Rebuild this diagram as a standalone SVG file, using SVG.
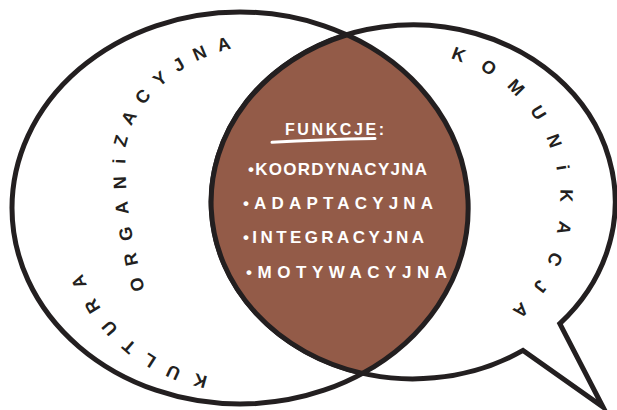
<svg xmlns="http://www.w3.org/2000/svg" width="617" height="410" viewBox="0 0 617 410">
  <style>
    .outline { fill: #ffffff; stroke: #231f20; stroke-width: 5; stroke-linejoin: miter; stroke-miterlimit: 12; }
    .lens { fill: #935b48; stroke: #231f20; stroke-width: 5; stroke-linejoin: round; }
    .arc-label { font-family: "Liberation Sans", Arial, sans-serif; font-size: 18px; font-weight: bold; fill: #231f20; dominant-baseline: central; }
    .inner { font-family: "Liberation Sans", Arial, sans-serif; font-weight: bold; fill: #ffffff; }
    .guide { fill: none; stroke: none; }
  </style>
  <defs>
    <path id="p-kultura" class="guide" d="M212.3,382.8 A177,177 0 0 1 69,253.8"/>
    <path id="p-organizacyjna" class="guide" d="M139,291 C128,252 117,195 120,150 C123,105 170,55 240,40"/>
    <path id="p-komunikacja" class="guide" d="M447.4,51.9 A153,153 0 0 1 507.2,321.6"/>
  </defs>

  <g id="kultura-organizacyjna">
    <ellipse class="outline" cx="240" cy="208" rx="228" ry="196"/>
  </g>

  <g id="komunikacja">
    <path class="outline" d="M559.8,323.6 A202,177 0 1 0 523,350.4 L603,407 Z"/>
  </g>

  <g id="funkcje">
    <path class="lens" d="M347,34.8 A228,196 0 0 1 362.4,373.4 A202,177 0 0 1 347,34.8 Z"/>
  </g>

  <g id="labels">
    <text class="arc-label" letter-spacing="14.8"><textPath href="#p-kultura" startOffset="6">KULTURA</textPath></text>
    <text class="arc-label" letter-spacing="12.4"><textPath href="#p-organizacyjna" startOffset="0">ORGANiZACYJNA</textPath></text>
    <text class="arc-label" letter-spacing="19.3"><textPath href="#p-komunikacja" startOffset="5">KOMUNiKACJA</textPath></text>
  </g>

  <g id="funkcje-text">
    <text class="inner" x="285" y="135" font-size="16" textLength="99" lengthAdjust="spacing">FUNKCJE:</text>
    <path d="M272,142.3 Q320,139.5 375,138.5" fill="none" stroke="#ffffff" stroke-width="3" stroke-linecap="round"/>
    <text class="inner" x="248" y="175" font-size="17" textLength="179" lengthAdjust="spacing">•KOORDYNACYJNA</text>
    <text class="inner" x="243" y="209" font-size="17" textLength="190" lengthAdjust="spacing">•ADAPTACYJNA</text>
    <text class="inner" x="243" y="243" font-size="17" textLength="181" lengthAdjust="spacing">•INTEGRACYJNA</text>
    <text class="inner" x="246" y="278" font-size="17" textLength="201" lengthAdjust="spacing">•MOTYWACYJNA</text>
  </g>
</svg>
